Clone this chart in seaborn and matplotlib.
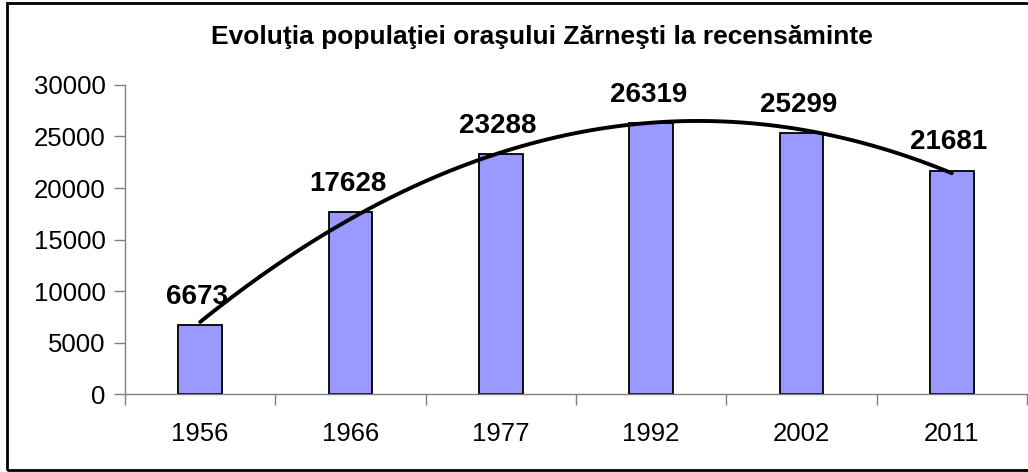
import numpy as np
import pandas as pd
import matplotlib.pyplot as plt
import seaborn as sns
from matplotlib.patches import Rectangle

# census years and population
years = ["1956", "1966", "1977", "1992", "2002", "2011"]
population = [6673, 17628, 23288, 26319, 25299, 21681]
yticks = [0, 5000, 10000, 15000, 20000, 25000, 30000]

df = pd.DataFrame({"An": years, "Populatie": population})

sns.set_style("white")
plt.rcParams["font.family"] = ["Liberation Sans", "DejaVu Sans"]
plt.rcParams["text.color"] = "black"
plt.rcParams["xtick.labelcolor"] = "black"
plt.rcParams["ytick.labelcolor"] = "black"

fig = plt.figure(figsize=(10.28, 4.72), dpi=100)
ax = fig.add_axes([0.1216, 0.165, 0.8774, 0.655])

sns.barplot(data=df, x="An", y="Populatie", color="#9999FF", saturation=1,
            width=0.29, edgecolor="black", linewidth=1.3, ax=ax)

# polynomial (order 2) trendline, like the Excel one
sns.regplot(x=np.arange(len(years)), y=df["Populatie"], order=2, scatter=False,
            ci=None, color="black", line_kws={"linewidth": 2.8}, ax=ax)

for i, v in enumerate(population):
    ax.annotate(str(v), (i, v), xytext=(-2, 11), textcoords="offset points",
                ha="center", va="bottom", fontsize=20, fontweight="bold",
                color="black")

ax.set_xlim(-0.5, len(years) - 0.5)
ax.set_ylim(0, 30000)
ax.set_yticks(yticks)
ax.set_xlabel("")
ax.set_ylabel("")
ax.tick_params(axis="y", which="major", length=8, width=1, color="#808080",
               labelsize=18.5, pad=6, left=True, labelcolor="black")
ax.tick_params(axis="x", which="major", length=0, labelsize=18.5, pad=20,
               labelcolor="black")
ax.set_xticks(np.arange(-0.5, len(years)), minor=True)
ax.tick_params(axis="x", which="minor", length=8, width=1, color="#808080", bottom=True)

for s in ["top", "right"]:
    ax.spines[s].set_visible(False)
for s in ["left", "bottom"]:
    ax.spines[s].set_color("#808080")
    ax.spines[s].set_linewidth(1)

fig.text(0.527, 0.922, "Evoluţia populaţiei oraşului Zărneşti la recensăminte",
         ha="center", va="center", fontsize=19, fontweight="bold", color="black")

# chart border
fig.patches.append(Rectangle((0.007, 0.004), 1.1, 0.99, transform=fig.transFigure,
                             fill=False, edgecolor="black", linewidth=2))

fig.savefig("out.png", dpi=100)
